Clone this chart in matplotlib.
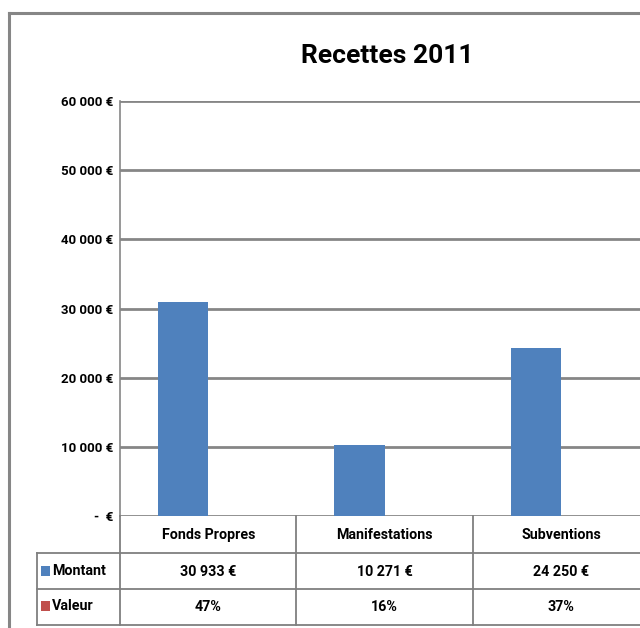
import matplotlib.pyplot as plt
from matplotlib.lines import Line2D
from matplotlib.patches import Rectangle
import numpy as np

categories = ['Fonds Propres', 'Manifestations', 'Subventions']
montant = [30933, 10271, 24250]
valeur = [0.47, 0.16, 0.37]
montant_labels = ['30 933 €', '10 271 €', '24 250 €']
valeur_labels = ['47%', '16%', '37%']
yticks = [0, 10000, 20000, 30000, 40000, 50000, 60000]
ytick_labels = ['-  €', '10 000 €', '20 000 €', '30 000 €', '40 000 €', '50 000 €', '60 000 €']

plt.rcParams['font.family'] = ['Roboto', 'DejaVu Sans']

blue = '#4F81BD'
red = '#C0504D'
grey = '#868686'

W, H = 640, 628
fig = plt.figure(figsize=(6.4, 6.28), dpi=100)

def fx(px):
    return px / W

def fy(py):
    return 1 - py / H

# plot area runs past the right edge of the picture (cropped chart)
ax = fig.add_axes([fx(120), fy(516), fx(649.5) - fx(120), fy(101) - fy(516)])
x = np.arange(len(categories))
bw = 1 / 3.5
ax.bar(x - bw / 2, montant, width=bw, color=blue, zorder=3)
ax.bar(x + bw / 2, valeur, width=bw, color=red, zorder=3)
ax.set_xlim(-0.5, 2.5)
ax.set_ylim(0, 60000)
ax.set_yticks(yticks)
ax.set_yticklabels(ytick_labels, fontsize=9.5, fontweight='bold')
ax.set_xticks([])
ax.tick_params(axis='y', length=0, pad=5)
ax.yaxis.grid(True, color=grey, linewidth=2)
ax.set_axisbelow(True)
for s in ['top', 'right', 'bottom']:
    ax.spines[s].set_visible(False)
ax.spines['left'].set_color(grey)
ax.spines['left'].set_linewidth(1.2)

# title
fig.text(fx(387), fy(56), 'Recettes 2011', ha='center', va='center',
         fontsize=19, fontweight='bold')

# outer chart border
fig.add_artist(Line2D([fx(9), fx(9)], [fy(13), 0], color=grey, lw=2.2))
fig.add_artist(Line2D([fx(9), 1], [fy(13), fy(13)], color=grey, lw=2.2))

# data table
row_y = [516, 553, 589, 625]
col_edges = [120, 296, 473]
tlc = '#7f7f7f'
for px in col_edges:
    fig.add_artist(Line2D([fx(px), fx(px)], [fy(516), fy(625)], color=tlc, lw=1.3))
fig.add_artist(Line2D([fx(37), fx(37)], [fy(553), fy(625)], color=tlc, lw=1.3))
for py in row_y[1:]:
    fig.add_artist(Line2D([fx(37), 1], [fy(py), fy(py)], color=tlc, lw=1.3))

fs = 10.3
for i, cat in enumerate(categories):
    xc = ax.transData.transform((x[i], 0))[0] / W
    fig.text(xc, fy(535), cat, ha='center', va='center', fontsize=fs, fontweight='bold')
    fig.text(xc, fy(572), montant_labels[i], ha='center', va='center', fontsize=fs, fontweight='bold')
    fig.text(xc, fy(607), valeur_labels[i], ha='center', va='center', fontsize=fs, fontweight='bold')

for label, color, yc in [('Montant', blue, 571), ('Valeur', red, 606)]:
    fig.add_artist(Rectangle((fx(41), fy(yc + 5)), fx(9), fy(yc - 5) - fy(yc + 5),
                             facecolor=color, edgecolor='none'))
    fig.text(fx(52), fy(yc), label, ha='left', va='center', fontsize=fs, fontweight='bold')

fig.savefig('out.png', dpi=100)
